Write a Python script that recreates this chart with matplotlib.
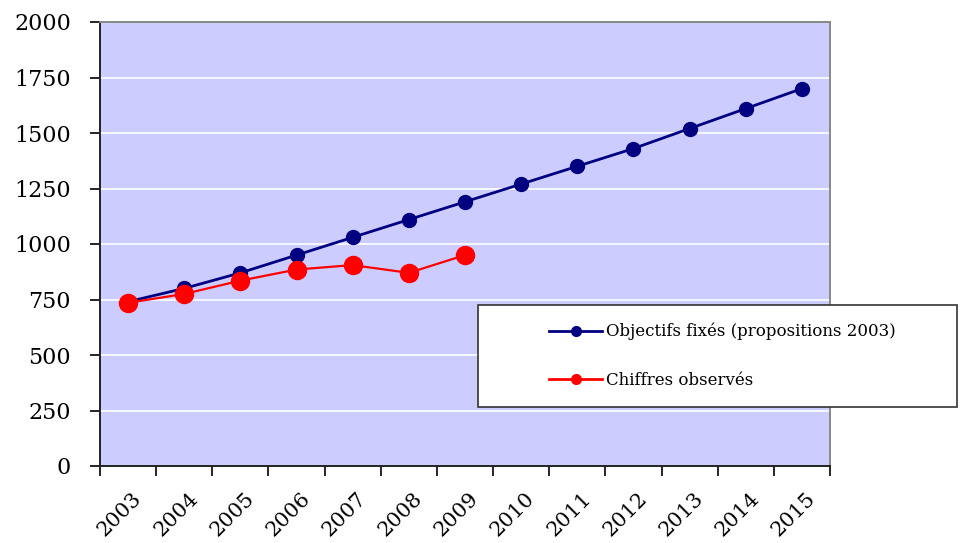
import matplotlib
matplotlib.use("Agg")
import matplotlib.pyplot as plt
from matplotlib.patches import Rectangle
from matplotlib.lines import Line2D
from matplotlib import transforms

# Séries (objectifs 2003 vs chiffres observés)
annees = ["2003", "2004", "2005", "2006", "2007", "2008", "2009",
          "2010", "2011", "2012", "2013", "2014", "2015"]
objectifs = [740, 800, 870, 950, 1030, 1110, 1190, 1270, 1350, 1430, 1520, 1610, 1700]
observes = [735, 775, 835, 885, 905, 870, 950]

lbl_obj = "Objectifs fixés (propositions 2003)"
lbl_obs = "Chiffres observés"

plt.rcParams["font.family"] = ["DejaVu Serif"]

fig = plt.figure(figsize=(9.6, 5.43), dpi=100)
ax = fig.add_axes([100 / 960, 1 - 466 / 543, 730 / 960, 444 / 543])
ax.set_facecolor("#CCCCFF")

x_obj = range(len(objectifs))
x_obs = range(len(observes))
ax.plot(x_obj, objectifs, color="#000080", lw=2, marker="o", ms=10, zorder=3)
ax.plot(x_obs, observes, color="#FF0000", lw=1.6, marker="o", ms=13, zorder=4)

ax.set_xlim(-0.5, len(annees) - 0.5)
ax.set_ylim(0, 2000)
ax.set_yticks(range(0, 2001, 250))
ax.yaxis.grid(True, color="white", lw=1.2)
ax.set_axisbelow(True)
ax.tick_params(axis="y", labelsize=16, length=7, width=1.2, direction="out", pad=14)

# marques aux limites de catégories, libellés au centre
ax.set_xticks([i - 0.5 for i in range(len(annees) + 1)], minor=True)
ax.set_xticks(list(range(len(annees))))
ax.set_xticklabels(annees, rotation=45, ha="right", rotation_mode="anchor", fontsize=15)
ax.tick_params(axis="x", which="major", length=0, pad=0)
ax.tick_params(axis="x", which="minor", length=7, width=1.2, direction="out")
offset = transforms.ScaledTranslation(4 / 100, -23 / 100, fig.dpi_scale_trans)
for t in ax.get_xticklabels():
    t.set_transform(t.get_transform() + offset)

for s in ("left", "bottom"):
    ax.spines[s].set_color("#222222")
    ax.spines[s].set_linewidth(1.4)
for s in ("top", "right"):
    ax.spines[s].set_color("#888888")
    ax.spines[s].set_linewidth(1.4)

# cadre de légende
fig.patches.append(Rectangle((478 / 960, 1 - 407 / 543), (957 - 478) / 960, 102 / 543,
                             transform=fig.transFigure, facecolor="white",
                             edgecolor="#333333", lw=1.2, zorder=5))
handles = [
    Line2D([], [], color="#000080", lw=2, marker="o", ms=7),
    Line2D([], [], color="#FF0000", lw=2, marker="o", ms=7),
]
leg = fig.legend(handles, [lbl_obj, lbl_obs], loc="upper left",
                 bbox_to_anchor=(534 / 960, 1 - 308 / 543), frameon=False,
                 fontsize=12, handlelength=3.2, handletextpad=0.2,
                 labelspacing=1.9)
leg.set_zorder(6)

fig.savefig("out.png", dpi=100)
